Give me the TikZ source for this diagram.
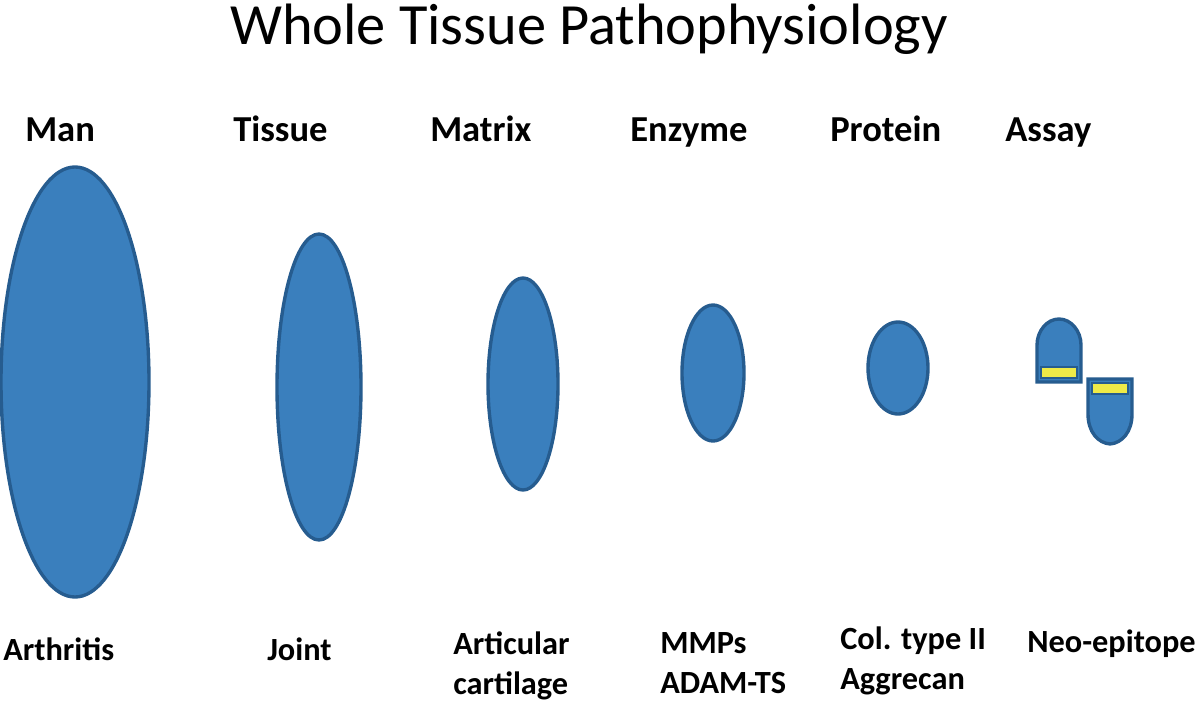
\documentclass[tikz,border=0pt]{standalone}
\usepackage{fontspec}
\setmainfont{Carlito}
\usepackage{xcolor}
\usepackage{tikz}
\usetikzlibrary{positioning}

\definecolor{blobfill}{RGB}{58,127,189}
\definecolor{blobline}{RGB}{38,92,143}
\definecolor{bandyellow}{RGB}{238,234,72}

\begin{document}
\begin{tikzpicture}[x=0.025cm, y=-0.025cm,
    blob/.style={fill=blobfill, draw=blobline, line width=2.4pt},
    band/.style={fill=bandyellow, draw=blobline, line width=1.2pt},
    head/.style={anchor=base west, inner sep=0pt, font=\fontsize{26}{30}\selectfont\bfseries},
    lbl/.style={anchor=base west, inner sep=0pt, align=left, font=\fontsize{23}{28}\selectfont\bfseries}]
    \useasboundingbox (0,0) rectangle (1200,702);

    % Title
    \node[anchor=base, inner sep=0pt, font=\fontsize{41.5}{48}\selectfont] (title) at (589,45) {Whole Tissue Pathophysiology};

    % Column headings
    \node[head] (man) at (25,142) {Man};
    \node[head] (tissue) at (233,142) {Tissue};
    \node[head] (matrix) at (430,142) {Matrix};
    \node[head] (enzyme) at (630,142) {Enzyme};
    \node[head] (protein) at (830,142) {Protein};
    \node[head] (assay) at (1005,142) {Assay};

    % Shrinking ellipses
    \draw[blob] (75,382) ellipse (74 and 215);
    \draw[blob] (319,387) ellipse (42 and 153);
    \draw[blob] (523,384) ellipse (35 and 106);
    \draw[blob] (713,373) ellipse (31 and 68);
    \draw[blob] (898,368) ellipse (30 and 46);

    % Assay pieces, cut at the neo-epitope
    \draw[blob] (1037,382) -- (1037,345) .. controls (1037,331) and (1047,319) .. (1059,319)
        .. controls (1071,319) and (1081,331) .. (1081,345) -- (1081,382) -- cycle;
    \draw[band] (1041,367) rectangle (1077,378);
    \draw[blob] (1088,379) -- (1132,379) -- (1132,414) .. controls (1132,432) and (1122,443) .. (1110,444)
        .. controls (1098,443) and (1088,432) .. (1088,414) -- cycle;
    \draw[band] (1092,383) rectangle (1128,394);

    % Labels below
    \node[lbl] (arthritis) at (3,660) {Arthritis};
    \node[lbl] (joint) at (267,660) {Joint};
    \node[lbl] (cartilage) at (453,694) {Articular\\cartilage};
    \node[lbl] (mmps) at (660,693) {MMPs\\ADAM-TS};
    \node[lbl] (coltype) at (840,689) {Col. type II\\Aggrecan};
    \node[lbl] (neo) at (1027,652) {Neo-epitope};
\end{tikzpicture}
\end{document}
